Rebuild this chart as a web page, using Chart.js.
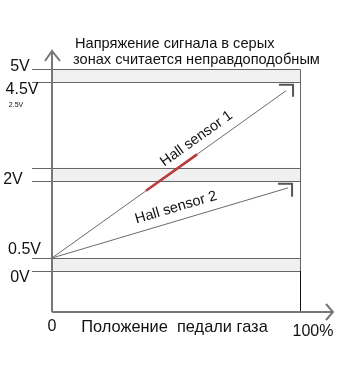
<!DOCTYPE html>
<html>
<head>
<meta charset="utf-8">
<script src="https://cdn.jsdelivr.net/npm/chart.js@4"></script>
<style>
  body { margin: 0; background: #fff; }
</style>
</head>
<body>
<canvas id="chart" width="341" height="373"></canvas>
<script>
// schematic voltage axis: 0V line = 0, 5V line = 5
const voltLabels = ['0V', '0.5V', '2V', '4.5V', '5V'];
const voltLevels = [0, 0.32, 2.23, 4.69, 5];
const zoneLow = [0, 2.23, 4.69];
const zoneHigh = [0.32, 2.56, 5];

// pedal position (%) vs. signal
const pedal1 = [0, 94.4];
const sensor1 = [0.32, 4.47];
const pedal2 = [0, 95.2];
const sensor2 = [0.32, 2.06];
const redPedal = [37.9, 58.5];
const redVolt = [1.99, 2.89];
const arrow1Pedal = [91.5, 97.2, 97.2];
const arrow1Volt = [4.62, 4.62, 4.32];
const arrow2Pedal = [91.1, 96.8, 96.8];
const arrow2Volt = [2.16, 2.16, 1.84];

const sensorNames = ['Hall sensor 1', 'Hall sensor 2'];
const sensorLabelAt = [61.3, 51.5];
const titleLines = ['Напряжение сигнала в серых', 'зонах считается неправдоподобным'];
const xLabel = 'Положение  педали газа';

const FONT = '"Liberation Sans", Arial, sans-serif';
const pts = (xs, ys) => xs.map((x, i) => ({ x, y: ys[i] }));

// y label placement (style only)
const yLabelX = [20, 24.5, 13, 22, 20];
const yLabelShift = [7, -8, -1, 8, -3];

const diagram = {
  id: 'diagram',
  beforeDatasetsDraw(chart) {
    const { ctx, chartArea: a, scales: { x, y } } = chart;
    const x0 = x.getPixelForValue(0), x100 = x.getPixelForValue(100);
    ctx.save();
    // grey zones
    ctx.fillStyle = '#f0f0f0';
    zoneLow.forEach((lo, i) => {
      const top = y.getPixelForValue(zoneHigh[i]), bot = y.getPixelForValue(lo);
      ctx.fillRect(x0, top, x100 - x0, bot - top);
    });
    // zone borders
    ctx.strokeStyle = '#666';
    ctx.lineWidth = 1;
    [...zoneLow, ...zoneHigh].forEach(v => {
      const py = Math.round(y.getPixelForValue(v)) + 0.5;
      ctx.beginPath(); ctx.moveTo(a.left - 20, py); ctx.lineTo(x100, py); ctx.stroke();
    });
    // right border
    const rx = Math.round(x100) + 0.5;
    ctx.beginPath(); ctx.moveTo(rx, y.getPixelForValue(5)); ctx.lineTo(rx, y.getPixelForValue(0)); ctx.stroke();
    ctx.strokeStyle = '#111';
    ctx.beginPath(); ctx.moveTo(rx, y.getPixelForValue(0)); ctx.lineTo(rx, a.bottom); ctx.stroke();

    // axes with arrows
    ctx.strokeStyle = '#777';
    ctx.lineWidth = 2;
    ctx.beginPath();
    ctx.moveTo(x0, a.bottom); ctx.lineTo(x0, a.top - 1);
    ctx.moveTo(x0, a.bottom); ctx.lineTo(a.right + 32, a.bottom);
    ctx.stroke();
    ctx.beginPath();
    ctx.moveTo(x0 - 7, a.top + 9); ctx.lineTo(x0, a.top - 1); ctx.lineTo(x0 + 8, a.top + 9);
    ctx.moveTo(a.right + 26, a.bottom - 8); ctx.lineTo(a.right + 33, a.bottom); ctx.lineTo(a.right + 26, a.bottom + 8);
    ctx.stroke();
    ctx.restore();
  },
  afterDatasetsDraw(chart) {
    const { ctx, scales: { x, y } } = chart;
    ctx.save();
    ctx.fillStyle = '#111';
    // title
    ctx.font = '14.6px ' + FONT;
    ctx.textAlign = 'left';
    ctx.textBaseline = 'alphabetic';
    ctx.fillText(titleLines[0], 75, 48);
    ctx.fillText(titleLines[1], 73, 64);

    // y labels
    ctx.font = '16px ' + FONT;
    ctx.textAlign = 'center';
    ctx.textBaseline = 'middle';
    voltLabels.forEach((t, i) => {
      ctx.fillText(t, yLabelX[i], y.getPixelForValue(voltLevels[i]) + yLabelShift[i]);
    });
    ctx.font = '7px ' + FONT;
    ctx.fillText('2.5V', 16, 105);

    // x labels
    ctx.font = '16px ' + FONT;
    ctx.fillText('0', x.getPixelForValue(0), 327);
    ctx.fillText('100%', 313, 332);
    ctx.font = '16.4px ' + FONT;
    ctx.fillText(xLabel, 174.5, 327);

    // sensor names along the lines
    ctx.font = '14.5px ' + FONT;
    [[pedal1, sensor1], [pedal2, sensor2]].forEach(([px, py], i) => {
      const p0 = { x: x.getPixelForValue(px[0]), y: y.getPixelForValue(py[0]) };
      const p1 = { x: x.getPixelForValue(px[1]), y: y.getPixelForValue(py[1]) };
      const ang = Math.atan2(p1.y - p0.y, p1.x - p0.x);
      const t = (sensorLabelAt[i] - px[0]) / (px[1] - px[0]);
      const cx = p0.x + t * (p1.x - p0.x) + 13 * Math.sin(ang);
      const cy = p0.y + t * (p1.y - p0.y) - 13 * Math.cos(ang);
      ctx.save();
      ctx.translate(cx, cy);
      ctx.rotate(ang);
      ctx.fillText(sensorNames[i], 0, 0);
      ctx.restore();
    });
    ctx.restore();
  }
};

const line = (data, color, width) => ({
  data, borderColor: color, borderWidth: width, showLine: true,
  pointRadius: 0, fill: false, tension: 0
});

new Chart(document.getElementById('chart'), {
  type: 'scatter',
  data: {
    datasets: [
      line(pts(pedal1, sensor1), '#6a6a6a', 1),
      line(pts(pedal2, sensor2), '#6a6a6a', 1),
      line(pts(redPedal, redVolt), '#e02020', 2.5),
      line(pts(arrow1Pedal, arrow1Volt), '#555', 2),
      line(pts(arrow2Pedal, arrow2Volt), '#555', 2)
    ]
  },
  options: {
    responsive: false,
    animation: false,
    layout: { padding: { left: 52, right: 41, top: 52, bottom: 61 } },
    plugins: { legend: { display: false }, tooltip: { enabled: false } },
    scales: {
      x: { type: 'linear', min: 0, max: 100, display: false },
      y: { type: 'linear', min: -1.02, max: 5.43, display: false }
    }
  },
  plugins: [diagram]
});
</script>
</body>
</html>
